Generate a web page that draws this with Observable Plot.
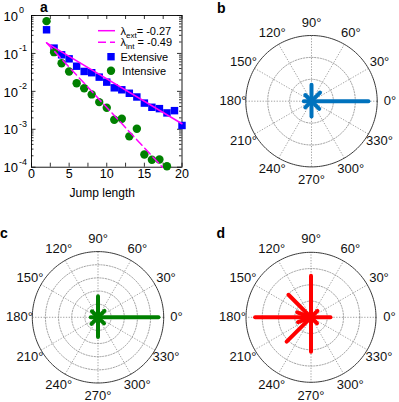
<!DOCTYPE html>
<html><head><meta charset="utf-8">
<script src="https://cdn.jsdelivr.net/npm/d3@7"></script>
<script src="https://cdn.jsdelivr.net/npm/@observablehq/plot@0.6"></script>
<style>
body{margin:0;background:#fff;}
#root{position:relative;width:399px;height:402px;overflow:hidden;background:#fff;font-family:"Liberation Sans",Arial,sans-serif;}
.panel{position:absolute;width:200px;}
.panel svg{overflow:visible;}
#overlay{position:absolute;left:0;top:0;pointer-events:none;}
</style></head><body><div id="root"></div>
<script>
// ---- Panel a data ----
const jumpLength = [2,3,4,5,6,7,8,9,10,11,12,13,14,15,16,17,18,19,20];
const extensive = [0.42,0.138,0.092,0.072,0.046,0.0335,0.031,0.0237,0.0175,0.0124,0.011,0.0089,0.0071,0.0049,0.0038,0.0035,0.0027,0.0031,0.00126];
const intensiveLength = [2,3,4,5,6,7,8,9,10,11,12,13,14,15,16,17,18];
const intensive = [0.71,0.108,0.055,0.0335,0.0164,0.0121,0.0083,0.0052,0.0037,0.00178,0.0019,0.00065,0.00103,0.000216,0.000157,0.00016,0.000106];
const fitExtX = [2,20], fitExtY = [0.19,0.0014];
const fitIntX = [2,17.4], fitIntY = [0.19,0.0001];
const lambdaExt = "-0.27", lambdaInt = "-0.49";
const xTicks = [0,5,10,15,20];
const xMinorTicks = [0,2.5,5,7.5,10,12.5,15,17.5,20];
const yTickExp = [0,-1,-2,-3,-4];

// ---- Polar panels data ----
const angleTicks = [0,30,60,90,120,150,180,210,240,270,300,330];
const armAngles = [0,45,90,135,180,225,270,315];
const armsB = [0.52,0.11,0.15,0.08,0.07,0.08,0.14,0.10];
const ringsB = [0.2,0.4,0.6];
const armsC = [0.46,0.07,0.16,0.065,0.055,0.07,0.15,0.065];
const ringsC = [0.1,0.2,0.3,0.4,0.5];
const armAnglesD = [0,45,90,135,160,180,200,225,270,315];
const armsD = [0.12,0.056,0.256,0.196,0.09,0.344,0.085,0.212,0.212,0.052];
const ringsD = [0.1,0.2,0.3,0.4];

const FONT = "Liberation Sans, Arial, sans-serif";
const root = document.getElementById("root");
function place(el, left, top){
  const d = document.createElement("div");
  d.className = "panel"; d.style.left = left+"px"; d.style.top = top+"px";
  d.appendChild(el); root.appendChild(d);
}

// ---- Panel a ----
const extData = jumpLength.map((x,i)=>({x, y: extensive[i]}));
const intData = intensiveLength.map((x,i)=>({x, y: intensive[i]}));
const fitExt = fitExtX.map((x,i)=>({x, y: fitExtY[i]}));
const fitInt = fitIntX.map((x,i)=>({x, y: fitIntY[i]}));
const yMajor = yTickExp.map(e=>10**e);
const yMinor = [-4,-3,-2,-1].flatMap(k=>[2,3,4,5,6,7,8,9].map(m=>m*10**k));
const aLeft=31, aTop=15, aRight=181.5, aBottom=166.7, aH=205;
const plotW = aRight-aLeft, plotH = aBottom-aTop;
const tickStyle = {stroke:"#000", strokeWidth:0.8};
const panelA = Plot.plot({
  width:200, height:aH,
  marginLeft:aLeft, marginTop:aTop, marginRight:200-aRight, marginBottom:aH-aBottom,
  style:{background:"none", fontFamily:FONT, overflow:"visible"},
  x:{domain:[0,20], axis:null},
  y:{type:"log", domain:[1e-4,1], axis:null},
  marks:[
    Plot.tickX(xMinorTicks, {x:d=>d, insetTop:plotH-4, ...tickStyle}),
    Plot.tickX(xMinorTicks, {x:d=>d, insetBottom:plotH-4, ...tickStyle}),
    Plot.tickY(yMajor, {y:d=>d, insetRight:plotW-4.5, ...tickStyle}),
    Plot.tickY(yMajor, {y:d=>d, insetLeft:plotW-4.5, ...tickStyle}),
    Plot.tickY(yMinor, {y:d=>d, insetRight:plotW-2.5, ...tickStyle}),
    Plot.tickY(yMinor, {y:d=>d, insetLeft:plotW-2.5, ...tickStyle}),
    Plot.frame({stroke:"#000", strokeWidth:0.9}),
    Plot.dot(extData, {x:"x", y:"y", symbol:"square", r:4.2, fill:"#0000ff", stroke:"none"}),
    Plot.dot(intData, {x:"x", y:"y", symbol:"circle", r:4.2, fill:"#008000", stroke:"none"}),
    Plot.line(fitExt, {x:"x", y:"y", stroke:"#ff00ff", strokeWidth:1.5}),
    Plot.line(fitInt, {x:"x", y:"y", stroke:"#ff00ff", strokeWidth:1.5, strokeDasharray:"8,4"}),
    Plot.text(xTicks, {x:d=>d, text:d=>String(d), frameAnchor:"bottom", dy:11, fontSize:12.5, fill:"#000"}),
    Plot.text(yTickExp, {y:d=>10**d, text:()=>"10", frameAnchor:"left", textAnchor:"start", dx:-28, dy:1, fontSize:13, fill:"#000"}),
    Plot.text(yTickExp, {y:d=>10**d, text:d=>d===0?"0":"-"+(-d), frameAnchor:"left", textAnchor:"start", dx:-12.6, dy:-5, fontSize:9, fill:"#000"}),
    Plot.text(["Jump length"], {text:d=>d, frameAnchor:"bottom", dx:-4.5, dy:29.5, fontSize:12, fill:"#000"})
  ]
});
place(panelA, 0, 0);

// ---- Polar panels ----
const rad = a => a*Math.PI/180;
function polarPanel({angles, arms, rings, color, cx, cy, R}){
  const rmax = rings[rings.length-1];
  const circ = d3.range(0,361,2);
  const ringPts = rings.slice(0,-1).flatMap(r=>circ.map(a=>({ring:r, x:r/rmax*Math.cos(rad(a)), y:r/rmax*Math.sin(rad(a))})));
  const outer = circ.map(a=>({x:Math.cos(rad(a)), y:Math.sin(rad(a))}));
  const armData = angles.map((a,i)=>({a, r:arms[i]/rmax}));
  const lr = 78.5/R;
  return Plot.plot({
    width:200, height:200, margin:0,
    style:{background:"none", fontFamily:FONT, overflow:"visible"},
    x:{domain:[-1,1], range:[cx-R, cx+R], axis:null},
    y:{domain:[-1,1], range:[cy+R, cy-R], axis:null},
    marks:[
      Plot.line(ringPts, {x:"x", y:"y", z:"ring", stroke:"#8a8a8a", strokeWidth:0.8, strokeDasharray:"1.3,1.5"}),
      Plot.link(angleTicks, {x1:()=>0, y1:()=>0, x2:a=>Math.cos(rad(a)), y2:a=>Math.sin(rad(a)), stroke:"#8a8a8a", strokeWidth:0.8, strokeDasharray:"1.3,1.5"}),
      Plot.line(outer, {x:"x", y:"y", stroke:"#3a3a3a", strokeWidth:1}),
      Plot.link(armData, {x1:()=>0, y1:()=>0, x2:d=>d.r*Math.cos(rad(d.a)), y2:d=>d.r*Math.sin(rad(d.a)), stroke:color, strokeWidth:4, strokeLinecap:"round"}),
      Plot.text(angleTicks, {x:a=>lr*Math.cos(rad(a)), y:a=>lr*Math.sin(rad(a)), text:a=>a+"°", fontSize:13, fill:"#111"})
    ]
  });
}
place(polarPanel({angles:armAngles, arms:armsB, rings:ringsB, color:"#0072bd", cx:111, cy:100.7, R:65.7}), 200, 0);
place(polarPanel({angles:armAngles, arms:armsC, rings:ringsC, color:"#008000", cx:97.5, cy:116.8, R:65.7}), 0, 200);
place(polarPanel({angles:armAnglesD, arms:armsD, rings:ringsD, color:"#ff0000", cx:110.5, cy:116.8, R:65}), 200, 200);

// ---- Overlay: panel letters and legend of panel a ----
const svg = d3.select(root).append("svg").attr("id","overlay").attr("width",399).attr("height",402)
  .style("font-family", FONT);
const letters = [["a",40,12],["b",217,13.3],["c",0,238.3],["d",216.5,238.3]];
svg.selectAll("text.letter").data(letters).join("text").attr("class","letter")
  .attr("x",d=>d[1]).attr("y",d=>d[2]).attr("font-size",14).attr("font-weight","bold").text(d=>d[0]);
const rows = [30.7, 42.3, 56.7, 70.7];
const lg = svg.append("g");
lg.append("line").attr("x1",98).attr("x2",115).attr("y1",rows[0]).attr("y2",rows[0]).attr("stroke","#ff00ff").attr("stroke-width",1.5);
lg.append("line").attr("x1",98).attr("x2",115).attr("y1",rows[1]).attr("y2",rows[1]).attr("stroke","#ff00ff").attr("stroke-width",1.5).attr("stroke-dasharray","8,4");
lg.append("rect").attr("x",111-3.7).attr("y",rows[2]-3.7).attr("width",7.4).attr("height",7.4).attr("fill","#0000ff");
lg.append("circle").attr("cx",111).attr("cy",rows[3]).attr("r",4.2).attr("fill","#008000");
function lambdaLabel(y, sub, rest){
  const t = lg.append("text").attr("x",120.5).attr("y",y+4).attr("font-size",11);
  t.append("tspan").text("λ");
  t.append("tspan").attr("font-size",8).attr("dy",3).text(sub);
  t.append("tspan").attr("dy",-3).text(rest);
}
lambdaLabel(rows[0], "ext", "= " + lambdaExt);
lambdaLabel(rows[1], "int", " = " + lambdaInt);
lg.append("text").attr("x",120.5).attr("y",rows[2]+4).attr("font-size",11).text("Extensive");
lg.append("text").attr("x",122).attr("y",rows[3]+4).attr("font-size",11).text("Intensive");
</script></body></html>
